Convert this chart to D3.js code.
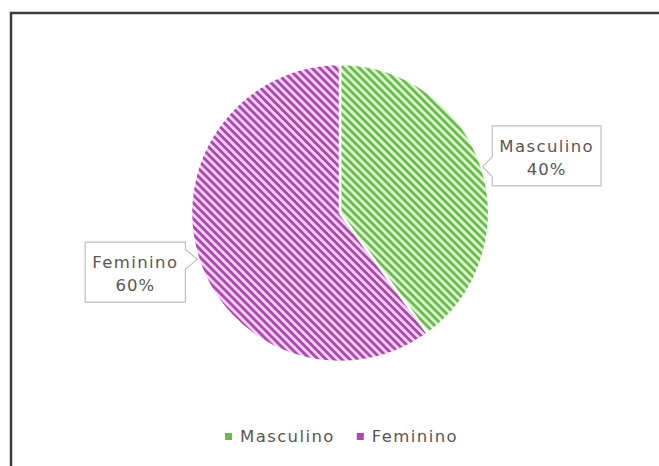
<!DOCTYPE html>
<html>
<head>
<meta charset="utf-8">
<script src="https://cdn.jsdelivr.net/npm/d3@7"></script>
<style>
  body { margin: 0; background: #fff; }
  svg { display: block; }
  text { font-family: "DejaVu Sans", sans-serif; fill: #575757; }
</style>
</head>
<body>
<svg id="vis"></svg>
<script>
// chart data
const categories = ["Masculino", "Feminino"];
const values = [40, 60];
const percentLabels = ["40%", "60%"];
const darkColors = ["#68bd47", "#ae47b1"];
const lightColors = ["#ddf3d5", "#f2d2f2"];

let config = {
  'svg': {},
  'pie': {},
  'legend': {},
  'labels': {}
};

config.svg.width = 659;
config.svg.height = 466;

config.pie.x = 340;
config.pie.y = 213;
config.pie.radius = 149;

config.legend.x = 225;
config.legend.y = 437;

// nudges for the callout boxes, in label order
config.labels.offsets = [[6, 8], [-4, -6]];

const svg = d3.select("svg#vis")
  .attr('width', config.svg.width)
  .attr('height', config.svg.height);

// outer frame (runs off the right and bottom edges)
svg.append("rect")
  .attr("x", 11)
  .attr("y", 13)
  .attr("width", 720)
  .attr("height", 520)
  .attr("fill", "none")
  .attr("stroke", "#3c3c3c")
  .attr("stroke-width", 2.5);

// hatch patterns
let defs = svg.append("defs");
categories.forEach(function(c, i) {
  let p = defs.append("pattern")
    .attr("id", "hatch" + i)
    .attr("patternUnits", "userSpaceOnUse")
    .attr("width", 5.6)
    .attr("height", 5.6)
    .attr("patternTransform", "rotate(45)");
  p.append("rect")
    .attr("width", 5.6).attr("height", 5.6)
    .attr("fill", lightColors[i]);
  p.append("rect")
    .attr("width", 5.6).attr("height", 2.8)
    .attr("fill", darkColors[i]);
});

let plot = svg.append("g")
  .attr("transform", translate(config.pie.x, config.pie.y));

let pie = d3.pie().sort(null).value(d => d.value);
let data = categories.map((c, i) => ({ name: c, value: values[i], label: percentLabels[i], index: i }));
let arcs = pie(data);

let arc = d3.arc().innerRadius(0).outerRadius(config.pie.radius);

plot.selectAll("path.slice")
  .data(arcs)
  .enter()
  .append("path")
  .attr("class", "slice")
  .attr("d", arc)
  .attr("fill", d => "url(#hatch" + d.data.index + ")")
  .attr("stroke", "#fff")
  .attr("stroke-width", 2.5);

// callout labels
let labelArc = d3.arc().innerRadius(config.pie.radius + 62).outerRadius(config.pie.radius + 62);
let tipArc = d3.arc().innerRadius(config.pie.radius + 1).outerRadius(config.pie.radius + 1);

arcs.forEach(function(d, i) {
  let c = labelArc.centroid(d);
  c = [c[0] + config.labels.offsets[i][0], c[1] + config.labels.offsets[i][1]];
  let tip = tipArc.centroid(d);
  let g = plot.append("g");

  let t1 = g.append("text")
    .attr("x", c[0]).attr("y", c[1] - 4)
    .attr("text-anchor", "middle")
    .attr("font-size", "16.5px")
    .attr("letter-spacing", "1.4px")
    .text(d.data.name);
  let t2 = g.append("text")
    .attr("x", c[0]).attr("y", c[1] + 19)
    .attr("text-anchor", "middle")
    .attr("font-size", "16.5px")
    .attr("letter-spacing", "1px")
    .text(d.data.label);

  let w = Math.max(t1.node().getComputedTextLength(), t2.node().getComputedTextLength()) + 14;
  let x0 = c[0] - w / 2, x1 = c[0] + w / 2;
  let y0 = c[1] - 30, y1 = c[1] + 30;
  let path;
  if (tip[0] < x0) {
    path = `M${x0},${y0}H${x1}V${y1}H${x0}V${tip[1] + 10}L${tip[0]},${tip[1]}L${x0},${tip[1] - 10}Z`;
  } else {
    path = `M${x0},${y0}H${x1}V${tip[1] - 10}L${tip[0]},${tip[1]}L${x1},${tip[1] + 10}V${y1}H${x0}Z`;
  }
  g.insert("path", "text")
    .attr("d", path)
    .attr("fill", "#fff")
    .attr("stroke", "#bfbfbf")
    .attr("stroke-width", 1.2);
});

// legend
let legend = svg.append("g")
  .attr("transform", translate(config.legend.x, config.legend.y));

let offset = 0;
categories.forEach(function(c, i) {
  let item = legend.append("g").attr("transform", translate(offset, 0));
  item.append("rect")
    .attr("x", 0).attr("y", -4)
    .attr("width", 7).attr("height", 7)
    .attr("fill", darkColors[i]);
  let t = item.append("text")
    .attr("x", 15).attr("y", 5)
    .attr("font-size", "16.5px")
    .attr("letter-spacing", "1.4px")
    .text(c);
  offset += 15 + t.node().getComputedTextLength() + 22;
});

function translate(x, y) {
  return 'translate(' + x + ',' + y + ')';
}
</script>
</body>
</html>
